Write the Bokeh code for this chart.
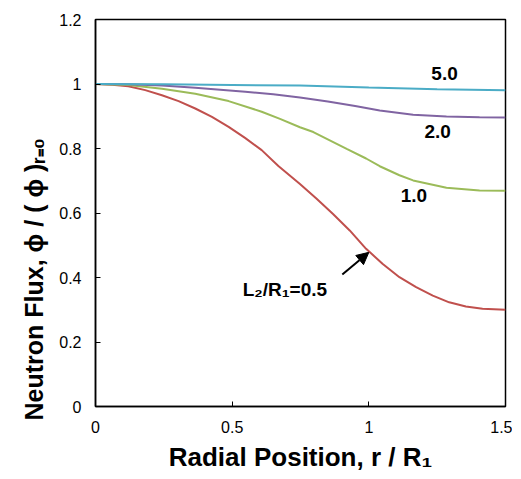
from bokeh.plotting import figure
from bokeh.models import Range1d, FixedTicker, Arrow, NormalHead, Title
from bokeh.core.properties import value
from bokeh.embed import file_html
from bokeh.resources import INLINE

# Data (each curve read at its own positions)
r_05 = [0.0, 0.061, 0.12, 0.182, 0.243, 0.304, 0.365, 0.426, 0.487, 0.547, 0.608, 0.669,
        0.748, 0.809, 0.869, 0.930, 0.99, 1.051, 1.112, 1.173, 1.234, 1.294, 1.355, 1.416, 1.5]
flux_05 = [1.0, 0.998, 0.993, 0.981, 0.965, 0.947, 0.924, 0.898, 0.867, 0.833, 0.795, 0.746,
           0.690, 0.644, 0.597, 0.546, 0.489, 0.442, 0.401, 0.370, 0.344, 0.323, 0.310, 0.303, 0.300]

r_10 = [0.0, 0.12, 0.243, 0.365, 0.487, 0.608, 0.675, 0.748, 0.797, 0.919, 0.99, 1.040, 1.112,
        1.162, 1.284, 1.405, 1.5]
flux_10 = [1.0, 0.997, 0.985, 0.970, 0.947, 0.914, 0.892, 0.866, 0.851, 0.799, 0.769, 0.745, 0.717,
           0.701, 0.678, 0.670, 0.669]

r_20 = [0.0, 0.12, 0.243, 0.365, 0.548, 0.65, 0.748, 0.85, 0.95, 1.04, 1.162, 1.284, 1.405, 1.5]
flux_20 = [1.0, 0.999, 0.995, 0.988, 0.976, 0.968, 0.958, 0.946, 0.932, 0.918, 0.905, 0.899, 0.897, 0.896]

r_50 = [0.0, 0.25, 0.5, 0.748, 1.0, 1.25, 1.5]
flux_50 = [1.0, 0.999, 0.997, 0.995, 0.989, 0.984, 0.981]

x_ticks = [0, 0.5, 1, 1.5]
x_tick_labels = ["0", "0.5", "1", "1.5"]
y_ticks = [0, 0.2, 0.4, 0.6, 0.8, 1.0, 1.2]
y_tick_labels = ["0", "0.2", "0.4", "0.6", "0.8", "1", "1.2"]

curve_labels = ["5.0", "2.0", "1.0"]
label_x = [1.277, 1.252, 1.165]
label_y = [1.033, 0.854, 0.654]

main_label = "L₂/R₁=0.5"
main_label_x = [0.693]
main_label_y = [0.363]
arrow_from = (0.903, 0.409)
arrow_to = (1.0, 0.478)

x_title = "Radial Position, r / R₁"
y_title = "Neutron Flux, ϕ / ( ϕ )ᵣ₌₀"

colors = ["#C0504D", "#9BBB59", "#8064A2", "#4BACC6"]
FONT = "Liberation Sans"

W, H = 512, 479
p = figure(width=W, height=H, output_backend="svg", toolbar_location=None,
           x_range=Range1d(0, 1.5), y_range=Range1d(0, 1.2),
           min_border_left=95, min_border_right=7, min_border_top=19, min_border_bottom=73)

p.xgrid.visible = False
p.ygrid.visible = False
p.outline_line_color = "black"
p.outline_line_width = 1.5

for xs, ys, c in zip([r_05, r_10, r_20, r_50], [flux_05, flux_10, flux_20, flux_50], colors):
    p.line(xs, ys, line_color=c, line_width=2)

p.text(label_x, label_y, text=curve_labels, text_font=value(FONT), text_font_style="bold",
       text_font_size="19px", text_align="center", text_baseline="middle", text_color="black")
p.text(main_label_x, main_label_y, text=[main_label], text_font=value(FONT), text_font_style="bold",
       text_font_size="19px", text_align="center", text_baseline="middle", text_color="black")

p.add_layout(Arrow(end=NormalHead(size=12, fill_color="black", line_color="black"),
                   x_start=arrow_from[0], y_start=arrow_from[1],
                   x_end=arrow_to[0], y_end=arrow_to[1], line_width=2, line_color="black"))

p.xaxis.ticker = FixedTicker(ticks=x_ticks)
p.xaxis.major_label_overrides = {t: l for t, l in zip(x_ticks, x_tick_labels)}
p.yaxis.ticker = FixedTicker(ticks=y_ticks)
p.yaxis.major_label_overrides = {t: l for t, l in zip(y_ticks, y_tick_labels)}

for ax in [p.xaxis[0], p.yaxis[0]]:
    ax.major_tick_in = 5
    ax.major_tick_out = 0
    ax.minor_tick_in = 0
    ax.minor_tick_out = 0
    ax.axis_line_color = "black"
    ax.axis_line_width = 1.5
    ax.major_tick_line_color = "black"
    ax.major_label_text_font = FONT
    ax.major_label_text_font_size = "16px"
    ax.major_label_text_color = "black"

p.xaxis.major_label_standoff = 14
p.yaxis.major_label_standoff = 14

p.xaxis.axis_label = x_title
p.xaxis.axis_label_text_font = FONT
p.xaxis.axis_label_text_font_style = "bold"
p.xaxis.axis_label_text_font_size = "26px"
p.xaxis.axis_label_text_color = "black"
p.xaxis.axis_label_standoff = 6

# y-axis title as a side title so that it can sit below the frame centre, as in the reference
p.add_layout(Title(text=y_title, align="left", offset=-14, standoff=18,
                   text_font=FONT, text_font_style="bold", text_font_size="25px",
                   text_color="black"), "left")

open("out.html", "w").write(file_html(p, INLINE))
